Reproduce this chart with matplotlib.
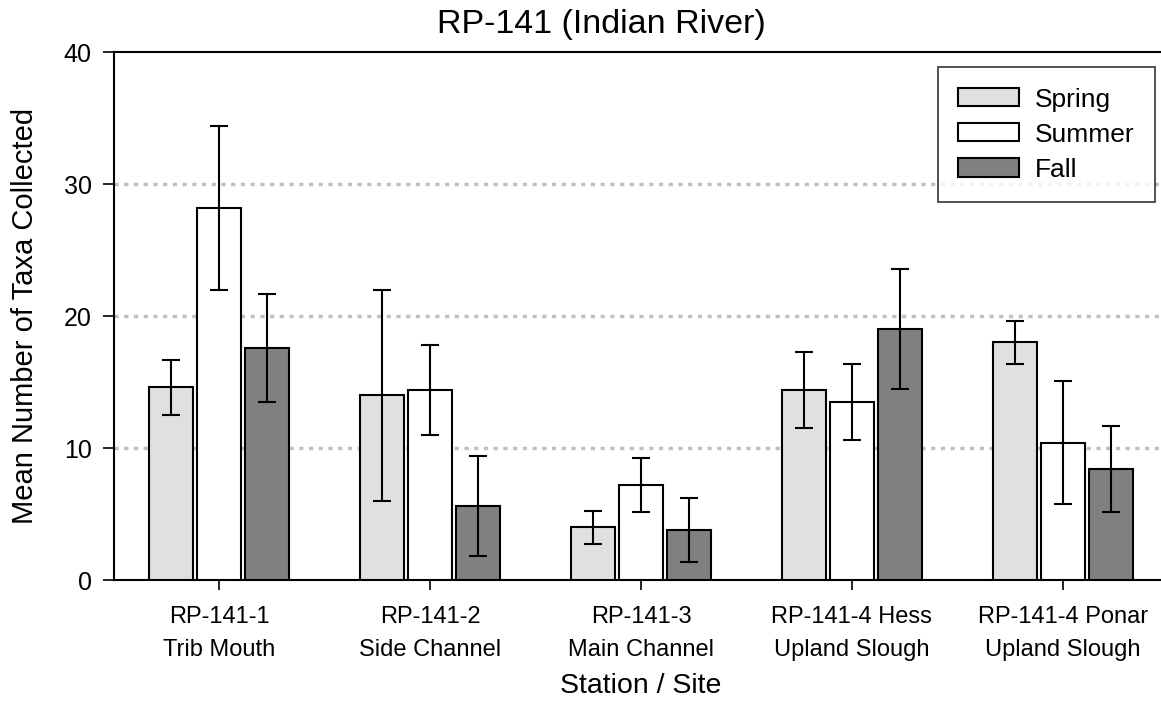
import matplotlib
matplotlib.use("Agg")
import matplotlib.pyplot as plt
import numpy as np

plt.rcParams['font.family'] = ['Liberation Sans', 'DejaVu Sans']

stations = ["RP-141-1\nTrib Mouth", "RP-141-2\nSide Channel", "RP-141-3\nMain Channel",
            "RP-141-4 Hess\nUpland Slough", "RP-141-4 Ponar\nUpland Slough"]
seasons = ["Spring", "Summer", "Fall"]

spring = [14.6, 14.0, 4.0, 14.4, 18.0]
summer = [28.2, 14.4, 7.2, 13.5, 10.4]
fall = [17.6, 5.6, 3.8, 19.0, 8.4]

spring_err = [2.1, 8.0, 1.25, 2.85, 1.65]
summer_err = [6.2, 3.4, 2.05, 2.9, 4.65]
fall_err = [4.1, 3.8, 2.4, 4.55, 3.25]

colors = ["#e0e0e0", "#ffffff", "#808080"]

fig = plt.figure(figsize=(11.61, 7.04), dpi=100)
W, H = 1161, 704
ax = fig.add_axes([114 / W, (H - 580) / H, (1168 - 114) / W, (580 - 52) / H])

x = np.arange(len(stations))
width = 0.209
step = 0.228
for i, (vals, errs, c, lab) in enumerate(zip([spring, summer, fall],
                                             [spring_err, summer_err, fall_err],
                                             colors, seasons)):
    ax.bar(x + (i - 1) * step, vals, width, color=c, edgecolor="black",
           linewidth=1.5, label=lab, zorder=3)
    ax.errorbar(x + (i - 1) * step, vals, yerr=errs, fmt="none", ecolor="black",
                elinewidth=1.5, capsize=6.8, capthick=1.5, zorder=4)

ax.set_xlim(-0.5, 4.5)
ax.set_ylim(0, 40)
ax.set_yticks([0, 10, 20, 30, 40])
ax.set_xticks(x)
ax.set_xticklabels(stations, fontsize=17, linespacing=1.6)
ax.tick_params(axis="y", labelsize=18, length=8, width=1.2, pad=8)
ax.tick_params(axis="x", length=7, width=1.2, pad=12)

for y in [10, 20, 30]:
    ax.axhline(y, color="#c0c0c0", linewidth=2.5, linestyle=(0, (1.2, 1.6)), zorder=1)

for s in ["left", "bottom", "top"]:
    ax.spines[s].set_linewidth(1.5)
ax.spines["right"].set_visible(False)

fig.text(601 / W, 1 - 33 / H, "RP-141 (Indian River)", fontsize=24.5,
         ha="center", va="baseline")
ax.set_ylabel("Mean Number of Taxa Collected", fontsize=21)
ax.yaxis.set_label_coords(-(114 - 25) / (1168 - 114), 0.5)
ax.yaxis.label.set_va("center")
ax.set_xlabel("Station / Site", fontsize=20.5, labelpad=9)

leg = ax.legend(loc="upper right", bbox_to_anchor=((1155 - 114) / (1168 - 114), 1 - 15 / 528),
                fontsize=19, frameon=True, fancybox=False, edgecolor="black",
                handlelength=2.3, handleheight=0.68, borderpad=0.78, labelspacing=0.42,
                handletextpad=0.6, borderaxespad=0)
leg.get_frame().set_linewidth(1.2)
leg.set_zorder(5)

fig.savefig("out.png", dpi=100)
